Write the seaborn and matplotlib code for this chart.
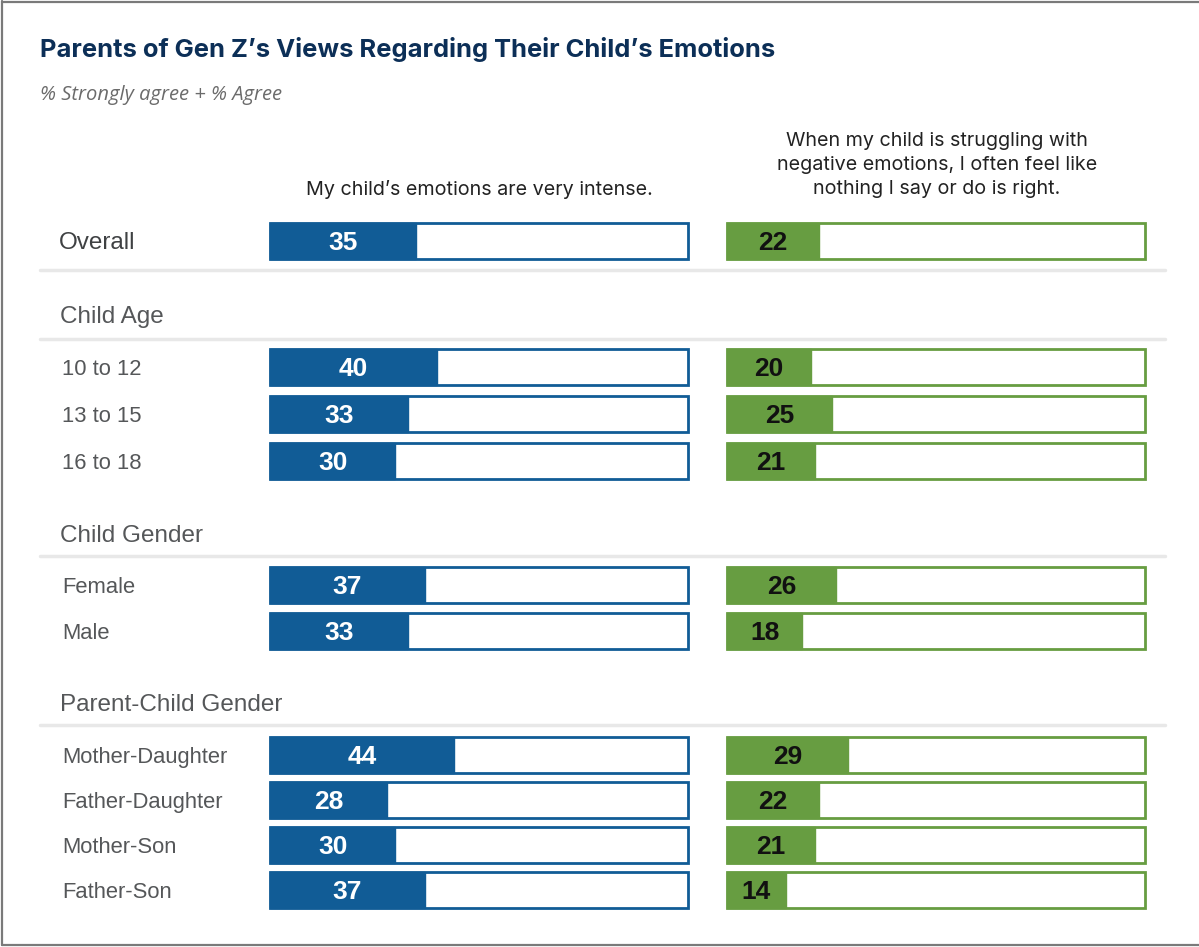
import matplotlib
matplotlib.use("Agg")
import matplotlib.pyplot as plt
import seaborn as sns
import pandas as pd
from matplotlib.lines import Line2D

sns.set_theme(style="white")
plt.rcParams["font.family"] = ["Inter", "DejaVu Sans"]

# --- data -------------------------------------------------------------
title = "Parents of Gen Z\u2019s Views Regarding Their Child\u2019s Emotions"
subtitle = "% Strongly agree + % Agree"
question_left = "My child\u2019s emotions are very intense."
question_right = ("When my child is struggling with\nnegative emotions, I often feel like\n"
                  "nothing I say or do is right.")

groups = ["Child Age", "Child Gender", "Parent-Child Gender"]
labels = ["Overall", "10 to 12", "13 to 15", "16 to 18", "Female", "Male",
          "Mother-Daughter", "Father-Daughter", "Mother-Son", "Father-Son"]
intense = [35, 40, 33, 30, 37, 33, 44, 28, 30, 37]
nothing_right = [22, 20, 25, 21, 26, 18, 29, 22, 21, 14]

# --- layout (pixel rows on a 1199 x 947 canvas) -----------------------
W, H = 1199, 947
row_y = [241, 367, 414, 461, 585, 631, 755, 800, 845, 890]
group_y = [315, 534, 703]
rule_y = [270, 339, 556, 725]
bar_h = 36

BLUE = "#115c96"
GREEN = "#679d41"
NAVY = "#0c2f57"
GREY_TXT = "#555759"
SANS = ["Liberation Sans", "DejaVu Sans"]

fig = plt.figure(figsize=(W / 100, H / 100), dpi=100)
canvas = fig.add_axes([0, 0, 1, 1])
canvas.set_xlim(0, W)
canvas.set_ylim(H, 0)
canvas.axis("off")

# frame around the graphic
for seg in [((2, 2), (1, H - 2)), ((2, W), (1.5, 1.5)), ((2, W), (H - 2, H - 2))]:
    canvas.add_line(Line2D(seg[0], seg[1], color="#7a7a7a", lw=1.6))

canvas.text(40, 49, title, fontsize=18.4, fontweight="bold", color=NAVY, va="center")
canvas.text(40, 95, subtitle, fontsize=14.5, style="italic", color="#6b6b6b",
            va="center", family=["Open Sans", "DejaVu Sans"])

canvas.text(479, 189, question_left, fontsize=14.2, color="#222222", ha="center",
            va="center")
canvas.text(937, 165, question_right, fontsize=14.2, color="#222222", ha="center",
            va="center", linespacing=1.45)

for y in rule_y:
    canvas.add_line(Line2D((40, 1165), (y, y), color="#e8e8e8", lw=2.5))

for g, y in zip(groups, group_y):
    canvas.text(60, y + 2, g, fontsize=17.5, color=GREY_TXT, va="center", family=SANS)

for i, (lab, y) in enumerate(zip(labels, row_y)):
    if i == 0:
        canvas.text(59, y + 2, lab, fontsize=17.5, color="#3f4143", va="center",
                    family=SANS)
    else:
        canvas.text(62, y + 2, lab, fontsize=15.8, color=GREY_TXT, va="center",
                    family=SANS)

df = pd.DataFrame({"label": labels, "y": row_y, "intense": intense,
                   "nothing": nothing_right, "full": 100})
min_gap = min(b - a for a, b in zip(row_y, row_y[1:]))


def draw_column(x0, x1, col, color, txt_color):
    ax = fig.add_axes([x0 / W, 0, (x1 - x0) / W, 1])
    ax.axis("off")
    ax.patch.set_alpha(0)
    width = bar_h / min_gap
    sns.barplot(data=df, x="full", y="y", orient="y", native_scale=True,
                width=width, color="white", edgecolor=color, linewidth=2.0,
                saturation=1, ax=ax)
    sns.barplot(data=df, x=col, y="y", orient="y", native_scale=True,
                width=width, color=color, edgecolor=color, linewidth=1.0,
                saturation=1, ax=ax)
    for p in ax.patches:
        p.set_clip_on(False)
    ax.set_xlim(0, 100)
    ax.set_ylim(H, 0)
    for v, y in zip(df[col], df["y"]):
        ax.text(v / 2, y + 2, f"{v}", ha="center", va="center", fontsize=19,
                fontweight="bold", color=txt_color, family=SANS)


draw_column(270, 688, "intense", BLUE, "white")
draw_column(727, 1145, "nothing", GREEN, "#111111")

fig.savefig("out.png", dpi=100)
